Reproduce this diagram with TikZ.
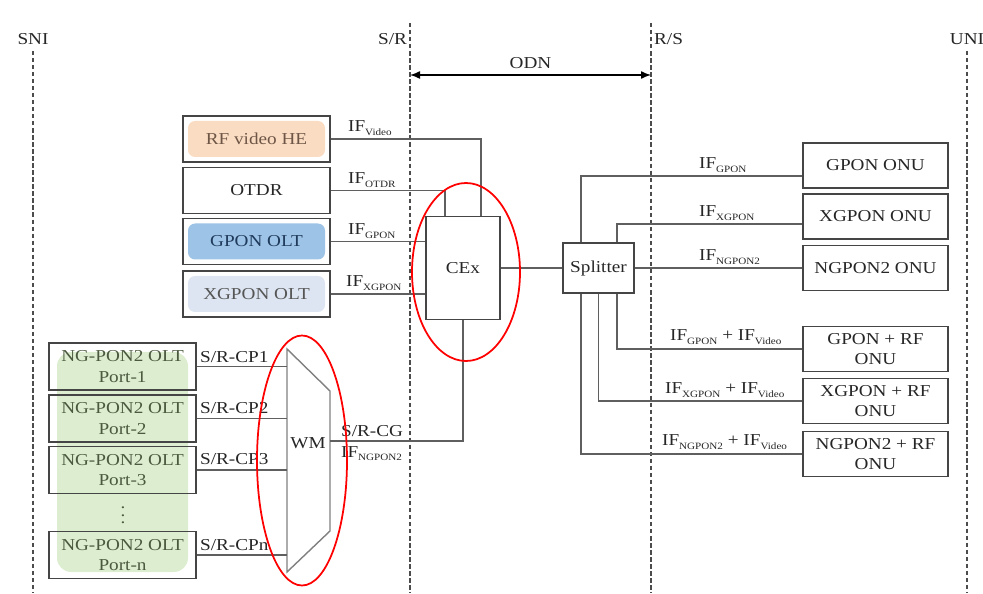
\documentclass[tikz,border=0pt]{standalone}
\usepackage{fontspec}
\setmainfont[FakeStretch=1.15]{Liberation Serif}
\usetikzlibrary{arrows.meta}

\definecolor{linegray}{HTML}{5F5F5F}
\definecolor{boxgray}{HTML}{454545}
\definecolor{rffill}{HTML}{FADCC2}
\definecolor{rftext}{HTML}{6E5646}
\definecolor{gponfill}{HTML}{9DC3E6}
\definecolor{gpontext}{HTML}{1F3A5A}
\definecolor{xgponfill}{HTML}{DCE5F1}
\definecolor{xgpontext}{HTML}{555555}
\definecolor{portfill}{HTML}{DDEDD0}
\definecolor{porttext}{HTML}{4B5A3E}

\newcommand{\IFsub}[1]{IF\raisebox{-0.5ex}{\fontsize{5.5}{6}\selectfont #1}}

\tikzset{
  unit/.style={draw=boxgray, line width=0.8pt, minimum width=2.94cm, minimum height=0.92cm, align=center, inner sep=1pt},
  onu/.style={unit, minimum width=2.9cm, minimum height=0.9cm},
  port/.style={unit, minimum height=0.94cm, text=porttext},
  innerfill/.style={path picture={\fill[#1, rounded corners=4pt] ([shift={(0.1,-0.1)}]path picture bounding box.north west) rectangle ([shift={(-0.1,0.1)}]path picture bounding box.south east);}},
  link/.style={draw=linegray, line width=0.8pt},
  refline/.style={draw=black!70, line width=0.6pt, dash pattern=on 2.5pt off 1.5pt},
  lbl/.style={anchor=south west, inner sep=1pt},
  ring/.style={draw=red, line width=1pt}
}

\begin{document}
\begin{tikzpicture}[font=\fontsize{9.5}{11.5}\selectfont, text=black!85]
  \useasboundingbox (0,0) rectangle (19.66,11.86);
  \coordinate (base) at (0,0);
  % Reference points -- dashed
  \node (sni) at (0.66,11.08) {SNI};
  \node (uni) at (19.34,11.08) {UNI};
  \coordinate (srtop) at (8.2,11.4);
  \coordinate (rstop) at (13.02,11.4);
  \node[anchor=east, inner sep=1pt] (srl) at (8.18,11.08) {S/R};
  \node[anchor=west, inner sep=1pt] (rsl) at (13.04,11.08) {R/S};
  \draw[refline] (sni.south) -- (sni.south |- base);
  \draw[refline] (uni.south) -- (uni.south |- base);
  \draw[refline] (srtop) -- (srtop |- base);
  \draw[refline] (rstop) -- (rstop |- base);
  % ODN span
  \coordinate (odnl) at (8.2,10.36);
  \coordinate (odnr) at (13.02,10.36);
  \draw[line width=0.8pt, {Latex[length=2mm,width=1.6mm]}-{Latex[length=2mm,width=1.6mm]}] (odnl) -- (odnr) node[midway, above] (odn) {ODN};
  % OLT side sources
  \node[unit, innerfill=rffill, text=rftext] (rf) at (5.13,9.08) {RF video HE};
  \node[unit] (otdr) at (5.13,8.05) {OTDR};
  \node[unit, innerfill=gponfill, text=gpontext] (gpon) at (5.13,7.03) {GPON OLT};
  \node[unit, innerfill=xgponfill, text=xgpontext] (xgpon) at (5.13,5.98) {XGPON OLT};
  % CEx and splitter
  \node[draw=boxgray, line width=0.8pt, minimum width=1.48cm, minimum height=2.06cm] (cex) at (9.26,6.5) {CEx};
  \node[draw=boxgray, line width=0.8pt, minimum width=1.42cm, minimum height=1cm, inner sep=1pt] (spl) at (11.97,6.5) {Splitter};
  % ONUs
  \node[onu] (gponu) at (17.51,8.55) {GPON ONU};
  \node[onu] (xgponu) at (17.51,7.53) {XGPON ONU};
  \node[onu] (ngponu) at (17.51,6.5) {NGPON2 ONU};
  \node[onu] (gprf) at (17.51,4.88) {GPON + RF\\ONU};
  \node[onu] (xgrf) at (17.51,3.84) {XGPON + RF\\ONU};
  \node[onu] (ngrf) at (17.51,2.78) {NGPON2 + RF\\ONU};
  % NG-PON2 ports -- green
  \fill[portfill, rounded corners=8pt] (1.14,0.42) rectangle (3.76,4.82);
  \node[port] (p1) at (2.45,4.53) {NG-PON2 OLT\\Port-1};
  \node[port] (p2) at (2.45,3.49) {NG-PON2 OLT\\Port-2};
  \node[port] (p3) at (2.45,2.46) {NG-PON2 OLT\\Port-3};
  \node[port] (pn) at (2.45,0.76) {NG-PON2 OLT\\Port-n};
  \node[text=porttext] (dots) at (2.46,1.66) {$\vdots$};
  % WM
  \coordinate (wma) at (5.74,4.88);
  \coordinate (wmb) at (6.6,4.04);
  \coordinate (wmc) at (6.6,1.24);
  \coordinate (wmd) at (5.74,0.42);
  \coordinate (wmout) at (6.6,3.04);
  \draw[draw=black!50, line width=0.8pt] (wma) -- (wmb) -- (wmc) -- (wmd) -- cycle;
  \node (wm) at (6.16,3.0) {WM};
  % Links into CEx
  \draw[link] (rf.east) -| ([xshift=0.36cm]cex.north);
  \draw[link] (otdr.east) -| ([xshift=-0.36cm]cex.north);
  \draw[link] (gpon.east) -- (gpon.east -| cex.west);
  \draw[link] (xgpon.east) -- (xgpon.east -| cex.west);
  \draw[link] (wmout) -| (cex.south);
  \draw[link] (cex) -- (spl);
  % Links from splitter
  \draw[link] ([xshift=-0.35cm]spl.north) |- ([yshift=-0.21cm]gponu.west);
  \draw[link] ([xshift=0.37cm]spl.north) |- ([yshift=-0.15cm]xgponu.west);
  \draw[link] (spl) -- (ngponu);
  \draw[link] ([xshift=0.37cm]spl.south) |- (gprf.west);
  \draw[link] (spl.south) |- (xgrf.west);
  \draw[link] ([xshift=-0.35cm]spl.south) |- (ngrf.west);
  % Links into WM
  \draw[link] (p1.east) -- (p1.east -| wma);
  \draw[link] (p2.east) -- (p2.east -| wma);
  \draw[link] (p3.east) -- (p3.east -| wma);
  \draw[link] (pn.east) -- (pn.east -| wma);
  % Labels left
  \node[lbl] (ifvideo) at (6.92,9.1) {\IFsub{Video}};
  \node[lbl] (ifotdr) at (6.92,8.07) {\IFsub{OTDR}};
  \node[lbl] (ifgpon) at (6.92,7.05) {\IFsub{GPON}};
  \node[lbl] (ifxgpon) at (6.88,6.0) {\IFsub{XGPON}};
  \node[lbl] (cp1) at (3.96,4.56) {S/R-CP1};
  \node[lbl] (cp2) at (3.96,3.54) {S/R-CP2};
  \node[lbl] (cp3) at (3.96,2.52) {S/R-CP3};
  \node[lbl] (cpn) at (3.96,0.8) {S/R-CPn};
  \node[lbl] (cg) at (6.78,3.08) {S/R-CG};
  \node[anchor=north west, inner sep=1pt] (ifng) at (6.78,2.98) {\IFsub{NGPON2}};
  % Labels right
  \node[lbl] (ogpon) at (13.94,8.36) {\IFsub{GPON}};
  \node[lbl] (oxgpon) at (13.94,7.40) {\IFsub{XGPON}};
  \node[lbl] (ongpon) at (13.94,6.52) {\IFsub{NGPON2}};
  \node[lbl] (ogprf) at (13.36,4.92) {\IFsub{GPON} + \IFsub{Video}};
  \node[lbl] (oxgrf) at (13.26,3.86) {\IFsub{XGPON} + \IFsub{Video}};
  \node[lbl] (ongrf) at (13.2,2.82) {\IFsub{NGPON2} + \IFsub{Video}};
  % Red rings
  \draw[ring] (9.32,6.42) ellipse (1.08 and 1.78);
  \draw[ring] (6.04,2.65) ellipse (0.9 and 2.5);
\end{tikzpicture}
\end{document}
